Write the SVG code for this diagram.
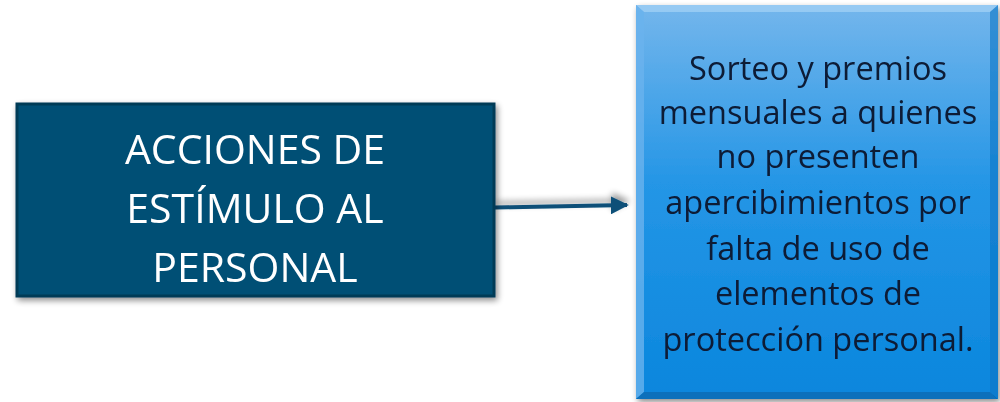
<svg xmlns="http://www.w3.org/2000/svg" width="1000" height="402" viewBox="0 0 1000 402">
<defs>
<style>
.lt{font-family:"Open Sans","Noto Sans",sans-serif;font-size:41px;fill:#ffffff;text-anchor:middle}
.rt{font-family:"Open Sans","Noto Sans",sans-serif;font-size:32.5px;fill:#0c1a36;text-anchor:middle}
</style>
<linearGradient id="bg" x1="0" y1="0" x2="0" y2="1">
<stop offset="0" stop-color="#74b6ec"/>
<stop offset="0.45" stop-color="#2596e6"/>
<stop offset="1" stop-color="#0a86dd"/>
</linearGradient>
<filter id="sh" x="-10%" y="-10%" width="125%" height="125%">
<feGaussianBlur in="SourceAlpha" stdDeviation="3"/>
<feOffset dx="2" dy="3"/>
<feComponentTransfer><feFuncA type="linear" slope="0.45"/></feComponentTransfer>
<feMerge><feMergeNode/><feMergeNode in="SourceGraphic"/></feMerge>
</filter>
<filter id="lsh" filterUnits="userSpaceOnUse" x="480" y="180" width="170" height="50">
<feGaussianBlur in="SourceAlpha" stdDeviation="3"/>
<feOffset dx="1" dy="-4"/>
<feComponentTransfer><feFuncA type="linear" slope="0.4"/></feComponentTransfer>
<feMerge><feMergeNode/><feMergeNode in="SourceGraphic"/></feMerge>
</filter>
<marker id="ah" viewBox="0 0 10 10" refX="9" refY="5" markerWidth="4.5" markerHeight="4.5" orient="auto" markerUnits="strokeWidth">
<path d="M0,0 L10,5 L0,10 z" fill="#0b4f78"/>
</marker>
</defs>
<rect width="1000" height="402" fill="#ffffff"/>
<g id="connectors" filter="url(#lsh)">
<line x1="495" y1="207.5" x2="627" y2="205" stroke="#0b4f78" stroke-width="4" marker-end="url(#ah)"/>
</g>
<g id="node-acciones" filter="url(#sh)">
<rect x="17" y="104" width="477" height="192" fill="#034f75" stroke="#003a57" stroke-width="3"/>
<text class="lt" x="255" y="164">ACCIONES DE</text>
<text class="lt" x="255" y="223">ESTÍMULO AL</text>
<text class="lt" x="255" y="282">PERSONAL</text>
</g>
<g id="node-sorteo" filter="url(#sh)">
<rect x="636" y="5" width="362" height="394" fill="url(#bg)"/>
<polygon points="636,5 998,5 990,12 644,12" fill="#9fd0f5" opacity="0.8"/>
<polygon points="636,5 644,12 644,392 636,399" fill="#6ab3ee" opacity="0.8"/>
<polygon points="998,5 998,399 990,392 990,12" fill="#0a74c4" opacity="0.6"/>
<polygon points="636,399 998,399 990,392 644,392" fill="#0565ad" opacity="0.7"/>
<text class="rt" x="818" y="80">Sorteo y premios</text>
<text class="rt" x="818" y="124">mensuales a quienes</text>
<text class="rt" x="818" y="168">no presenten</text>
<text class="rt" x="818" y="214">apercibimientos por</text>
<text class="rt" x="818" y="260">falta de uso de</text>
<text class="rt" x="818" y="305">elementos de</text>
<text class="rt" x="818" y="351">protección personal.</text>
</g>
</svg>
